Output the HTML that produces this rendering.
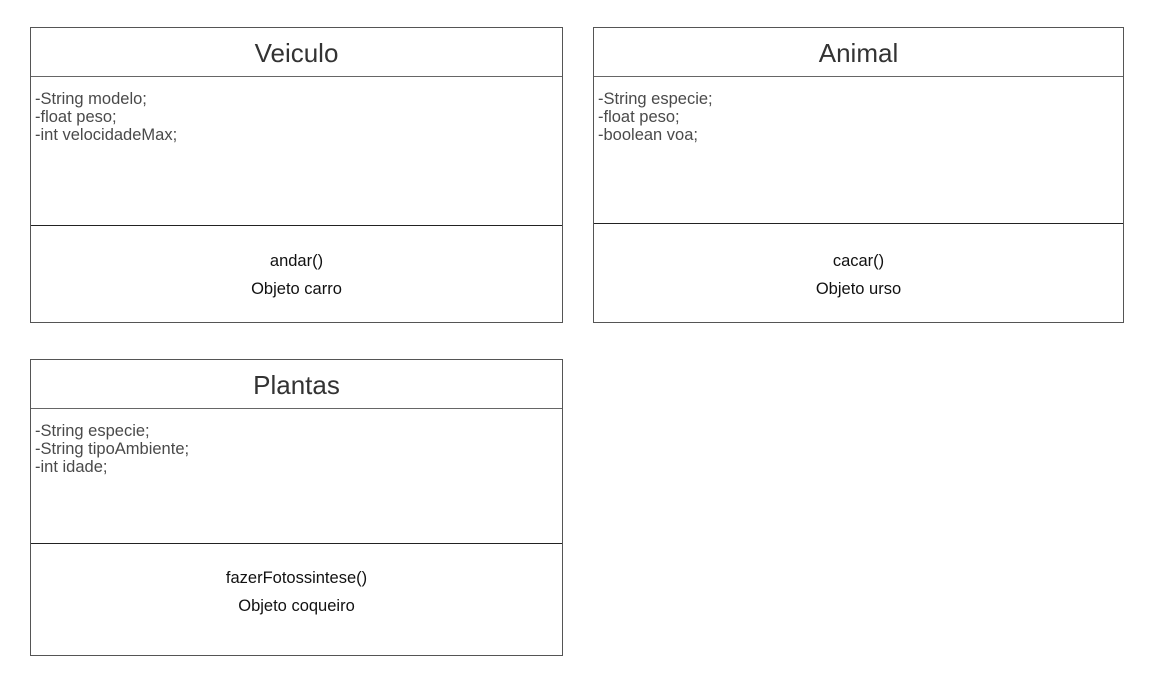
<!DOCTYPE html>
<html><head><meta charset="utf-8"><style>
body{margin:0;width:1162px;height:691px;background:#fff;position:relative;overflow:hidden;font-family:"Liberation Sans",sans-serif}
.box{position:absolute;border:1.5px solid #555;box-sizing:border-box}
.title{position:absolute;left:0;right:0;top:0;height:48px;border-bottom:1.5px solid #666;text-align:center;font-size:26px;line-height:50px;color:#333}
.attrs{position:absolute;left:4px;font-size:16.5px;line-height:18px;color:#4a4a4a}
.div{position:absolute;left:0;right:0;border-top:1.5px solid #222}
.meth{position:absolute;left:0;right:0;text-align:center;font-size:16.5px;line-height:28px;color:#111}
</style></head><body>
<div class="box" style="left:30px;top:27px;width:533px;height:296px">
 <div class="title">Veiculo</div>
 <div class="attrs" style="top:62px">-String modelo;<br>-float peso;<br>-int velocidadeMax;</div>
 <div class="div" style="top:197px"></div>
 <div class="meth" style="top:219px">andar()<br>Objeto carro</div>
</div>
<div class="box" style="left:593px;top:27px;width:531px;height:296px">
 <div class="title">Animal</div>
 <div class="attrs" style="top:62px">-String especie;<br>-float peso;<br>-boolean voa;</div>
 <div class="div" style="top:195px"></div>
 <div class="meth" style="top:219px">cacar()<br>Objeto urso</div>
</div>
<div class="box" style="left:30px;top:359px;width:533px;height:297px">
 <div class="title">Plantas</div>
 <div class="attrs" style="top:62px">-String especie;<br>-String tipoAmbiente;<br>-int idade;</div>
 <div class="div" style="top:183px"></div>
 <div class="meth" style="top:204px">fazerFotossintese()<br>Objeto coqueiro</div>
</div>
</body></html>
